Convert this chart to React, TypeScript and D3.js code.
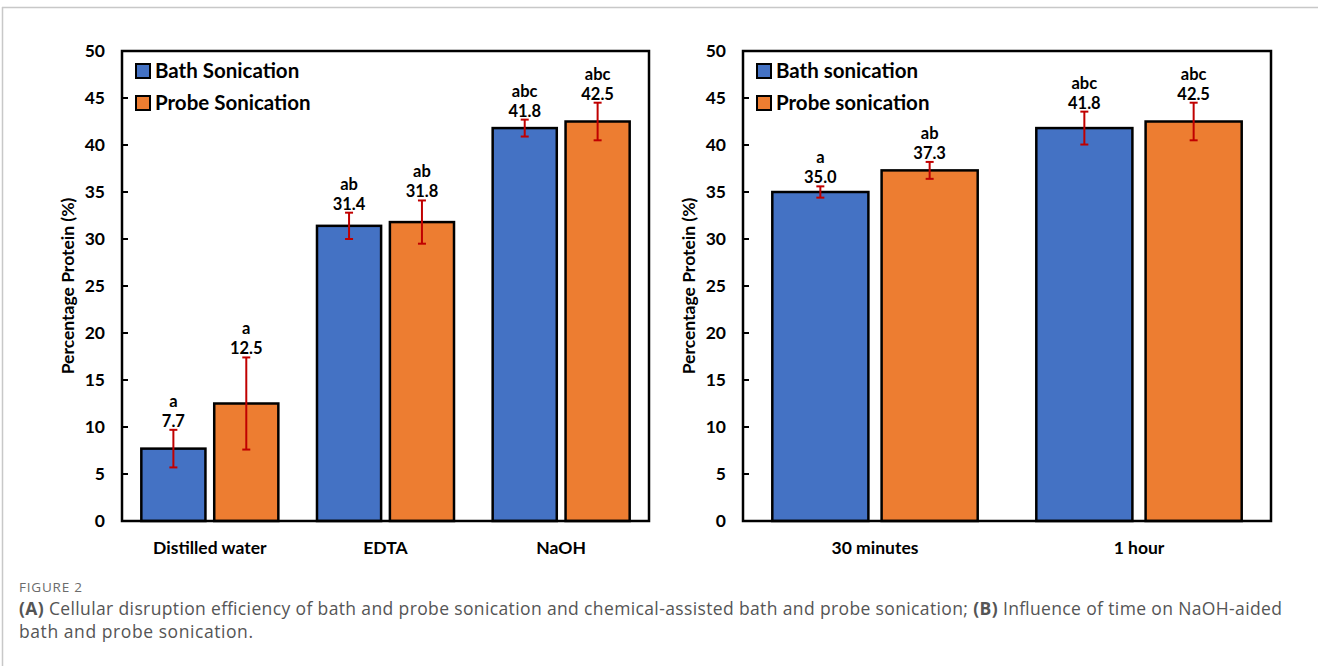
import * as d3 from "d3";

const seriesA = ["Bath Sonication", "Probe Sonication"];
const seriesB = ["Bath sonication", "Probe sonication"];
const catsA = ["Distilled water", "EDTA", "NaOH"];
const catsB = ["30 minutes", "1 hour"];

const bathA = [7.7, 31.4, 41.8];
const probeA = [12.5, 31.8, 42.5];
const bathErrA = [2.0, 1.4, 0.9];
const probeErrA = [4.9, 2.3, 2.0];
const bathLetA = ["a", "ab", "abc"];
const probeLetA = ["a", "ab", "abc"];

const bathB = [35.0, 41.8];
const probeB = [37.3, 42.5];
const bathErrB = [0.6, 1.75];
const probeErrB = [0.9, 2.0];
const bathLetB = ["a", "abc"];
const probeLetB = ["ab", "abc"];

const yTicks = [0, 5, 10, 15, 20, 25, 30, 35, 40, 45, 50];
const colors = ["#4472C4", "#ED7D31"];

const W = 1318;
const H = 666;
const FONT = "Lato, 'Open Sans', sans-serif";
const CAP_FONT = "'Open Sans', Lato, sans-serif";

type Panel = {
  x0: number;
  x1: number;
  cats: string[];
  series: string[];
  values: number[][];
  errs: number[][];
  letters: string[][];
  barFrac: number;
  gapFrac: number;
};

const yScale = d3.scaleLinear().domain([0, 50]).range([521, 51]);

const ChartPanel = ({ p }: { p: Panel }) => {
  const xg = d3.scaleBand().domain(p.cats).range([p.x0, p.x1]).padding(0);
  const bw = xg.bandwidth();
  const barW = bw * p.barFrac;
  const gap = bw * p.gapFrac;
  const inner = barW * 2 + gap;
  const xs = d3
    .scaleBand()
    .domain(p.series)
    .range([(bw - inner) / 2, (bw + inner) / 2])
    .paddingInner(gap / (barW + gap));
  const midY = (yScale(0) + yScale(50)) / 2;

  return (
    <g>
      {/* bars */}
      {p.cats.map((c, i) =>
        p.series.map((s, j) => {
          const v = p.values[j][i];
          const e = p.errs[j][i];
          const x = (xg(c) as number) + (xs(s) as number);
          const cx = x + xs.bandwidth() / 2;
          const top = yScale(v + e);
          return (
            <g key={c + s}>
              <rect
                x={x}
                y={yScale(v)}
                width={xs.bandwidth()}
                height={yScale(0) - yScale(v)}
                fill={colors[j]}
                stroke="#000"
                strokeWidth={2.5}
              />
              <line x1={cx} x2={cx} y1={top} y2={yScale(v - e)} stroke="#C00000" strokeWidth={2} />
              <line x1={cx - 4} x2={cx + 4} y1={top} y2={top} stroke="#C00000" strokeWidth={2} />
              <line x1={cx - 4} x2={cx + 4} y1={yScale(v - e)} y2={yScale(v - e)} stroke="#C00000" strokeWidth={2} />
              <text x={cx} y={top - 3} textAnchor="middle" fontSize={16.5} fontWeight="bold" fontFamily={FONT}>
                {v.toFixed(1)}
              </text>
              <text x={cx} y={top - 23} textAnchor="middle" fontSize={16.5} fontWeight="bold" fontFamily={FONT}>
                {p.letters[j][i]}
              </text>
            </g>
          );
        })
      )}
      {/* frame */}
      <rect
        x={p.x0}
        y={yScale(50)}
        width={p.x1 - p.x0}
        height={yScale(0) - yScale(50)}
        fill="none"
        stroke="#000"
        strokeWidth={2.5}
      />
      {/* y ticks */}
      {yTicks.map((t) => (
        <g key={t}>
          <line x1={p.x0} x2={p.x0 + 6} y1={yScale(t)} y2={yScale(t)} stroke="#000" strokeWidth={2} />
          <text
            x={p.x0 - 17}
            y={yScale(t)}
            dy="0.35em"
            textAnchor="end"
            fontSize={17.5}
            fontWeight="bold"
            fontFamily={FONT}
          >
            {t}
          </text>
        </g>
      ))}
      <text
        transform={`translate(${p.x0 - 48},${midY}) rotate(-90)`}
        textAnchor="middle"
        fontSize={17.5}
        fontWeight="bold"
        fontFamily={FONT}
      >
        Percentage Protein (%)
      </text>
      {/* category labels */}
      {p.cats.map((c) => (
        <text
          key={c}
          x={(xg(c) as number) + bw / 2}
          y={554}
          textAnchor="middle"
          fontSize={17.5}
          fontWeight="bold"
          fontFamily={FONT}
        >
          {c}
        </text>
      ))}
      {/* legend */}
      {p.series.map((s, j) => (
        <g key={s} transform={`translate(${p.x0 + 14},${yScale(50) + 20 + j * 32})`}>
          <rect x={0} y={-7} width={14} height={14} fill={colors[j]} stroke="#000" strokeWidth={2} />
          <text x={19} y={0} dy="0.35em" fontSize={20.5} fontWeight="bold" fontFamily={FONT}>
            {s}
          </text>
        </g>
      ))}
    </g>
  );
};

export default function App() {
  const left: Panel = {
    x0: 122,
    x1: 649,
    cats: catsA,
    series: seriesA,
    values: [bathA, probeA],
    errs: [bathErrA, probeErrA],
    letters: [bathLetA, probeLetA],
    barFrac: 0.365,
    gapFrac: 0.05,
  };
  const right: Panel = {
    x0: 743,
    x1: 1271,
    cats: catsB,
    series: seriesB,
    values: [bathB, probeB],
    errs: [bathErrB, probeErrB],
    letters: [bathLetB, probeLetB],
    barFrac: 0.364,
    gapFrac: 0.05,
  };
  return (
    <svg
      width={W}
      height={H}
      style={{ position: "absolute", left: 0, top: 0, background: "#fff" }}
    >
      <line x1={2} x2={W} y1={7.5} y2={7.5} stroke="#c8c8c8" strokeWidth={1.5} />
      <line x1={2.5} x2={2.5} y1={7} y2={H} stroke="#c8c8c8" strokeWidth={1.5} />
      <ChartPanel p={left} />
      <ChartPanel p={right} />
      <text x={19} y={592} fontSize={13.5} fill="#6b6b6b" fontFamily={CAP_FONT} textLength={63} lengthAdjust="spacing">
        FIGURE 2
      </text>
      <text
        x={19}
        y={615}
        fontSize={17.5}
        fill="#555"
        fontFamily={CAP_FONT}
        textLength={1263}
        lengthAdjust="spacing"
      >
        <tspan fontWeight="bold">(A)</tspan> Cellular disruption efficiency of bath and probe sonication and
        chemical-assisted bath and probe sonication; <tspan fontWeight="bold">(B)</tspan> Influence of time on
        NaOH-aided
      </text>
      <text x={19} y={638} fontSize={17.5} fill="#555" fontFamily={CAP_FONT} textLength={234} lengthAdjust="spacing">
        bath and probe sonication.
      </text>
    </svg>
  );
}
